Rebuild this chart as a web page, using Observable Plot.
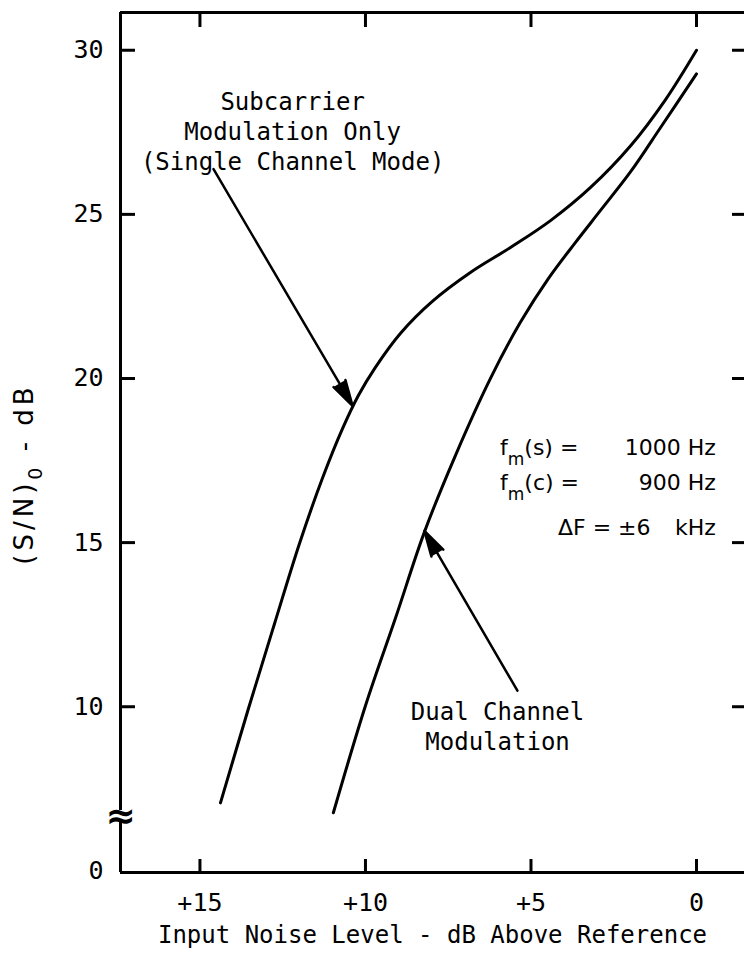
<!DOCTYPE html>
<html><head><meta charset="utf-8">
<script src="https://cdn.jsdelivr.net/npm/d3@7"></script>
<script src="https://cdn.jsdelivr.net/npm/@observablehq/plot@0.6"></script>
<style>body{margin:0;background:#fff} svg{display:block}</style>
</head><body><div id="chart"></div>
<script>
// Subcarrier modulation only (single channel mode)
const singleX = [14.38, 13.53, 12.75, 12.00, 11.30, 10.69, 10.21, 9.70, 8.94, 7.98, 6.83, 5.62, 4.41, 3.20, 1.99, 0.94, 0];
const singleY = [7.07, 9.96, 12.52, 14.95, 16.96, 18.48, 19.49, 20.34, 21.38, 22.35, 23.23, 23.99, 24.81, 25.82, 27.09, 28.49, 30.0];
// Dual channel modulation
const dualX = [10.97, 10.00, 9.09, 8.22, 7.28, 6.22, 5.32, 4.47, 3.66, 2.90, 1.99, 1.09, 0];
const dualY = [6.77, 10.03, 12.71, 15.32, 17.66, 20.01, 21.71, 23.05, 24.14, 25.12, 26.30, 27.64, 29.28];

// Axes
const xDomain = [17.4, -1.45];
const yDomain = [4.95, 31.15];
const xTicks = [15, 10, 5, 0];
const xTickLabels = ["+15", "+10", "+5", "0"];
const yTicks = [5, 10, 15, 20, 25, 30];          // value 5 sits below the axis break
const yTickLabels = ["0", "10", "15", "20", "25", "30"];
const yTickMarks = [10, 15, 20, 25, 30];
const yBreak = [6.48, 6.84];
const xLabel = "Input Noise Level - dB Above Reference";

// Annotations
const noteSingle = ["Subcarrier", "Modulation Only", "(Single Channel Mode)"];
const noteSingleX = [12.2, 12.2, 12.2];
const noteSingleY = [28.42, 27.51, 26.6];
const noteDual = ["Dual Channel", "Modulation"];
const noteDualX = [6.01, 6.01];
const noteDualY = [9.84, 8.93];
const arrowFrom = [[14.59, 26.38], [5.41, 10.49]];
const arrowTo = [[10.39, 19.17], [8.22, 15.36]];

const W = 744, H = 954, mL = 120, mR = 0, mT = 12, mB = 82;
const mono = "'DejaVu Sans Mono', 'Liberation Mono', monospace";
const sans = "'DejaVu Sans', 'Liberation Sans', sans-serif";
const plotW = W - mL - mR, plotH = H - mT - mB;

const single = singleX.map((x, i) => ({x, y: singleY[i]}));
const dual = dualX.map((x, i) => ({x, y: dualY[i]}));
const singleNotes = noteSingle.map((t, i) => ({t, x: noteSingleX[i], y: noteSingleY[i]}));
const dualNotes = noteDual.map((t, i) => ({t, x: noteDualX[i], y: noteDualY[i]}));
const arrows = arrowFrom.map((a, i) => ({x1: a[0], y1: a[1], x2: arrowTo[i][0], y2: arrowTo[i][1]}));

const chart = Plot.plot({
  width: W, height: H,
  marginLeft: mL, marginRight: mR, marginTop: mT, marginBottom: mB,
  x: {domain: xDomain},
  y: {domain: yDomain},
  style: {background: "white", color: "black"},
  marks: [
    // frame (left side broken)
    Plot.ruleY([yDomain[0]], {strokeWidth: 3}),
    Plot.ruleY([yDomain[1]], {strokeWidth: 3}),
    Plot.ruleX([xDomain[0]], {y1: yDomain[0], y2: yBreak[0], strokeWidth: 3}),
    Plot.ruleX([xDomain[0]], {y1: yBreak[1], y2: yDomain[1], strokeWidth: 3}),
    Plot.text(["\u2248"], {x: xDomain[0], y: (yBreak[0] + yBreak[1]) / 2, text: d => d, fontSize: 36, fontWeight: "bold", fontFamily: sans}),
    // inward ticks
    Plot.tickX(xTicks, {x: d => d, strokeWidth: 3, insetTop: plotH - 13}),
    Plot.tickX(xTicks, {x: d => d, strokeWidth: 3, insetBottom: plotH - 15}),
    Plot.tickY(yTickMarks, {y: d => d, strokeWidth: 3, insetRight: plotW - 15}),
    Plot.tickY(yTickMarks, {y: d => d, strokeWidth: 3, insetLeft: plotW - 12}),
    // tick labels
    Plot.axisX({ticks: xTicks, tickSize: 0, tickPadding: 21, fontSize: 25, fontFamily: mono,
      tickFormat: d => xTickLabels[xTicks.indexOf(d)], label: null}),
    Plot.axisY({ticks: yTicks, tickSize: 0, tickPadding: 17, fontSize: 25, fontFamily: mono,
      tickFormat: d => yTickLabels[yTicks.indexOf(d)], label: null}),
    Plot.text([xLabel], {frameAnchor: "bottom", dy: 70, fontSize: 24, fontFamily: mono, text: d => d}),
    // curves
    Plot.line(single, {x: "x", y: "y", curve: "catmull-rom", strokeWidth: 3}),
    Plot.line(dual, {x: "x", y: "y", curve: "catmull-rom", strokeWidth: 3}),
    // annotations
    Plot.text(singleNotes, {x: "x", y: "y", text: "t", fontSize: 24, fontFamily: mono}),
    Plot.text(dualNotes, {x: "x", y: "y", text: "t", fontSize: 24, fontFamily: mono}),
    Plot.arrow(arrows, {x1: "x1", y1: "y1", x2: "x2", y2: "y2", strokeWidth: 2.5, headLength: 16, headAngle: 30, bend: 0})
  ]
});
document.getElementById("chart").appendChild(chart);

const svg = d3.select(chart);
// filled arrowheads
svg.selectAll("g[aria-label='arrow'] path").attr("fill", "black");

// y-axis title with subscript
const yl = svg.append("text")
  .attr("transform", "translate(24,474) rotate(-90)")
  .attr("text-anchor", "middle").attr("dy", "0.35em")
  .attr("font-family", sans).attr("font-size", 26).attr("letter-spacing", 4).attr("fill", "black");
yl.append("tspan").text("(S/N)");
yl.append("tspan").attr("dy", 9).attr("font-size", 19).text("0");
yl.append("tspan").attr("dy", -9).text(" - dB");

// parameter notes
const sx = chart.scale("x"), sy = chart.scale("y");
const params = [
  {sub: "s", val: "1000 Hz", y: 17.9},
  {sub: "c", val: "900 Hz", y: 16.81}
];
params.forEach(p => {
  const t = svg.append("text").attr("x", sx.apply(5.92)).attr("y", sy.apply(p.y)).attr("dy", "0.35em")
    .attr("text-anchor", "start").attr("font-family", sans).attr("font-size", 22).attr("fill", "black");
  t.append("tspan").text("f");
  t.append("tspan").attr("dy", 10).attr("font-size", 17).text("m");
  t.append("tspan").attr("dy", -10).text(`(${p.sub}) =`);
  svg.append("text").attr("x", sx.apply(-0.6)).attr("y", sy.apply(p.y)).attr("dy", "0.35em")
    .attr("text-anchor", "end").attr("font-family", sans).attr("font-size", 22).attr("fill", "black").text(p.val);
});
svg.append("text").attr("x", sx.apply(4.17)).attr("y", sy.apply(15.44)).attr("dy", "0.35em")
  .attr("text-anchor", "start").attr("font-family", sans).attr("font-size", 22).attr("fill", "black").text("\u0394F = \u00b16");
svg.append("text").attr("x", sx.apply(-0.6)).attr("y", sy.apply(15.44)).attr("dy", "0.35em")
  .attr("text-anchor", "end").attr("font-family", sans).attr("font-size", 22).attr("fill", "black").text("kHz");
</script>
</body></html>
